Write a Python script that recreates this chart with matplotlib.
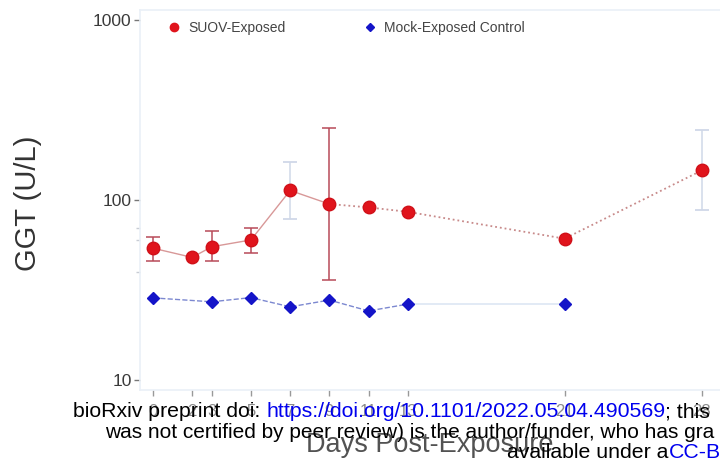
import matplotlib
matplotlib.use("Agg")
import matplotlib.pyplot as plt
from matplotlib.lines import Line2D
from matplotlib.ticker import FixedLocator, NullFormatter

plt.rcParams['font.family'] = ['Liberation Sans', 'DejaVu Sans']

# GGT values (U/L)
days_suov = [0, 2, 3, 5, 7, 9, 11, 13, 21, 28]
ggt_suov = [54, 48, 55, 60, 113, 95, 91, 86, 61, 146]
days_mock = [0, 3, 5, 7, 9, 11, 13, 21]
ggt_mock = [28.6, 27.2, 28.7, 25.5, 27.8, 24.2, 26.4, 26.4]

# error bars that can be seen (low / high ends)
err_days_dark = [0, 3, 5, 9]
err_val_dark = [54, 55, 60, 95]
err_lo_dark = [46, 46, 51, 36]
err_hi_dark = [62, 67, 70, 250]
err_days_light = [7, 28]
err_val_light = [113, 146]
err_lo_light = [78, 88]
err_hi_light = [162, 245]

day_ticks = [0, 2, 3, 5, 7, 9, 11, 13, 21, 28]
y_ticks = [10, 100, 1000]
y_minor = [40, 60, 70]

W, H = 720, 472
fig = plt.figure(figsize=(7.2, 4.72), dpi=100)
ax = fig.add_axes([140 / W, 1 - 390 / H, 580 / W, 380 / H])
ax.set_yscale('log')

# connecting lines: solid early, dotted later (red); dashed then faint (blue)
ax.plot(days_suov[:6], ggt_suov[:6], '-', color='#d89898', lw=1.0, zorder=2)
ax.plot(days_suov[5:], ggt_suov[5:], ':', color='#c88a8a', lw=1.3, zorder=2)
ax.plot(days_mock[:7], ggt_mock[:7], '--', color='#7c88d0', lw=1.0, zorder=2)
ax.plot(days_mock[6:], ggt_mock[6:], '-', color='#dde6f4', lw=1.2, zorder=2)

# error bars
ax.errorbar(err_days_dark, err_val_dark,
            yerr=[[v - l for v, l in zip(err_val_dark, err_lo_dark)],
                  [h - v for v, h in zip(err_val_dark, err_hi_dark)]],
            fmt='none', ecolor='#b84a58', elinewidth=1.1, capsize=5, capthick=1.1, zorder=3)
ax.errorbar(err_days_light, err_val_light,
            yerr=[[v - l for v, l in zip(err_val_light, err_lo_light)],
                  [h - v for v, h in zip(err_val_light, err_hi_light)]],
            fmt='none', ecolor='#d0d8e8', elinewidth=1.1, capsize=5, capthick=1.3, zorder=3)

ax.plot(days_suov, ggt_suov, 'o', color='#e0141c', ms=9, mec='#d01018', ls='none', zorder=4)
ax.plot(days_mock, ggt_mock, 'D', color='#1414c8', ms=6.5, ls='none', zorder=4)

ax.set_xlim(-0.66, 28.93)
ax.set_ylim(8.8, 1137)

ax.xaxis.set_major_locator(FixedLocator(day_ticks))
ax.set_xticklabels([str(d) for d in day_ticks])
ax.yaxis.set_major_locator(FixedLocator(y_ticks))
ax.set_yticklabels([str(v) for v in y_ticks])
ax.yaxis.set_minor_locator(FixedLocator(y_minor))
ax.yaxis.set_minor_formatter(NullFormatter())
ax.xaxis.set_minor_locator(FixedLocator([]))

ax.tick_params(axis='y', which='major', labelsize=12.5, labelcolor='#3a3a3a',
               color='#777777', length=4, width=1, pad=2)
ax.tick_params(axis='y', which='minor', color='#c8ccd4', length=3, width=1)
ax.tick_params(axis='x', labelsize=12, labelcolor='#8a8a8a', color='#999999',
               length=4, width=1, pad=6)

for side in ['left', 'bottom', 'top']:
    ax.spines[side].set_color('#eaf0f7')
    ax.spines[side].set_linewidth(1.2)
ax.spines['right'].set_visible(False)

ax.set_ylabel('GGT (U/L)', fontsize=21, color='#333333')
ax.yaxis.set_label_coords((28 - 140) / 580, 0.492)
ax.yaxis.label.set_va('center')
ax.set_xlabel('Days Post-Exposure', fontsize=19.5, color='#525252')
ax.xaxis.set_label_coords(0.5, -0.145)
ax.xaxis.label.set_va('center')

handles = [Line2D([], [], marker='o', ls='none', color='#e0141c', ms=6),
           Line2D([], [], marker='D', ls='none', color='#1414c8', ms=4.5)]
ax.legend(handles, ['SUOV-Exposed', 'Mock-Exposed Control'], ncol=2, frameon=False,
          loc='center left', bbox_to_anchor=(155 / W, 1 - 28 / H),
          bbox_transform=fig.transFigure, fontsize=10, labelcolor='#444444',
          handlelength=1.0, handletextpad=0.5, columnspacing=5.6)

# bioRxiv watermark over the figure, drawn piece by piece
fig.canvas.draw()
renderer = fig.canvas.get_renderer()


def put_line(x0, ybase, pieces, size=15.3):
    x = x0
    for txt, col in pieces:
        t = fig.text(x / W, 1 - ybase / H, txt, color=col, fontsize=size,
                     va='baseline', ha='left', zorder=10)
        x += t.get_window_extent(renderer).width


put_line(73, 417, [('bioRxiv preprint doi: ', 'black'),
                   ('https://doi.org/10.1101/2022.05.04.490569', '#0000ee'),
                   ('; this', 'black')])
put_line(105, 438, [('was not certified by peer review) is the author/funder, who has gra', 'black')],
         size=15.05)
put_line(507, 458, [('available under a', 'black'), ('CC-B', '#0000ee')])

fig.savefig('out.png', dpi=100)
